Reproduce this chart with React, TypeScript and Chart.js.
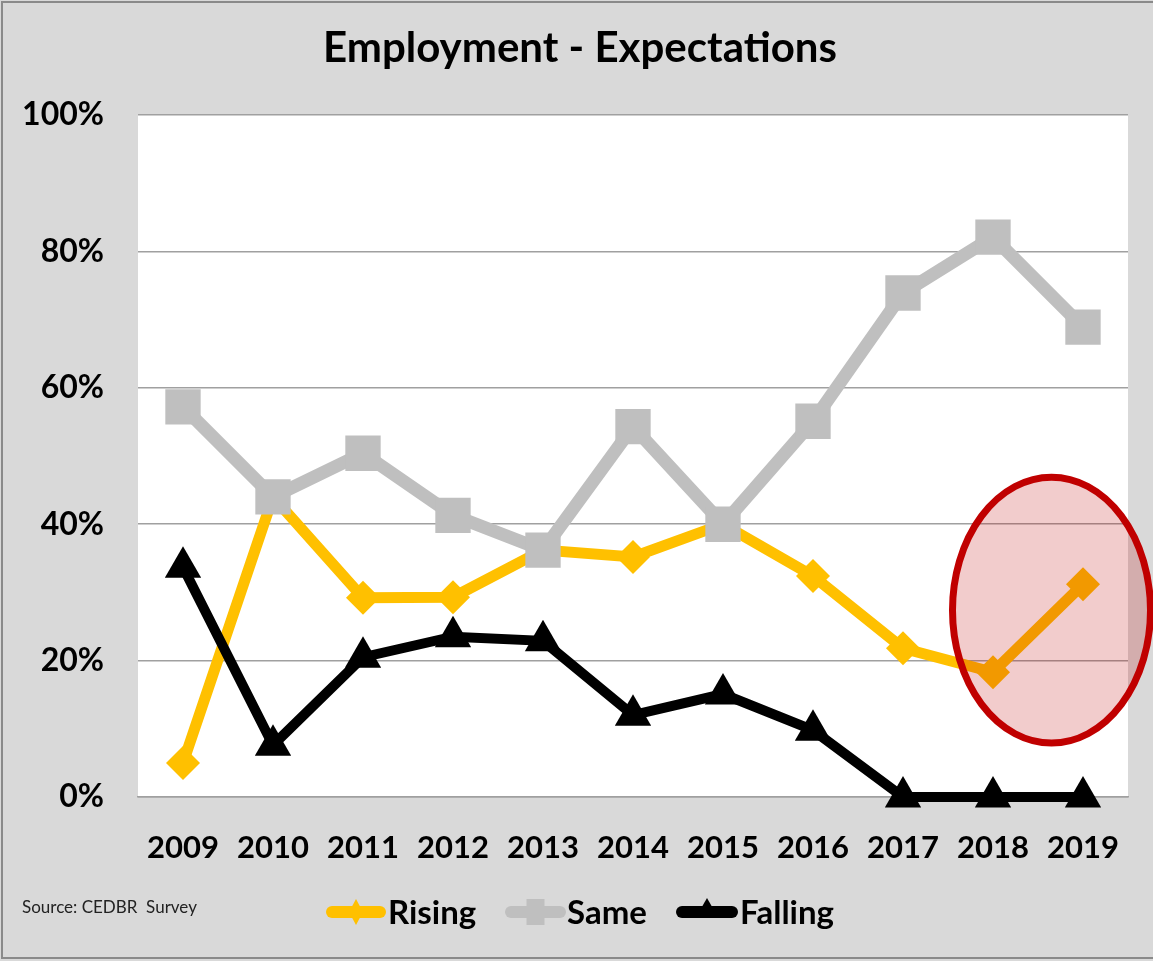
import React, { useEffect, useRef } from "react";
import { Chart, registerables } from "chart.js";

Chart.register(...registerables);

const years = ["2009", "2010", "2011", "2012", "2013", "2014", "2015", "2016", "2017", "2018", "2019"];
const rising = [5, 44, 29.2, 29.3, 36.2, 35.2, 40, 32.4, 21.8, 18.3, 31.2];
const same = [57.2, 44, 50.4, 41.3, 36.2, 54.3, 40, 55.1, 73.9, 82.1, 68.9];
const falling = [33.7, 7.6, 20.5, 23.5, 22.9, 12, 15.1, 9.8, 0, 0, 0];
const yMin = 0;
const yMax = 100;
const yStep = 20;

const titleText = "Employment - Expectations";
const sourceText = "Source: CEDBR  Survey";
const seriesNames = ["Rising", "Same", "Falling"];
const seriesColors = ["#ffc000", "#bfbfbf", "#000000"];

// highlight ellipse annotation in data units (category index, percent)
const highlightCenter = { x: 9.65, y: 27.4 };
const highlightRadius = { x: 1.1, y: 19.5 };

const W = 1153;
const H = 961;
const FONT = "Lato, 'Open Sans', sans-serif";

export default function App() {
  const ref = useRef<HTMLCanvasElement | null>(null);

  useEffect(() => {
    document.body.style.margin = "0";
    const canvas = ref.current!;
    const decor = {
      id: "decor",
      beforeDraw(chart: any) {
        const { ctx, chartArea } = chart;
        ctx.save();
        ctx.fillStyle = "#d9d9d9";
        ctx.fillRect(0, 0, W, H);
        ctx.fillStyle = "#ffffff";
        ctx.fillRect(chartArea.left, chartArea.top, chartArea.right - chartArea.left, chartArea.bottom - chartArea.top);
        ctx.strokeStyle = "#8a8a8a";
        ctx.lineWidth = 2;
        ctx.beginPath();
        ctx.moveTo(W, 2);
        ctx.lineTo(2, 2);
        ctx.lineTo(2, H - 3);
        ctx.lineTo(W, H - 3);
        ctx.stroke();
        ctx.restore();
      },
      afterDatasetsDraw(chart: any) {
        const { ctx, scales } = chart;
        const xs = scales.x;
        const ys = scales.y;
        const cx = xs.getPixelForValue(highlightCenter.x);
        const cy = ys.getPixelForValue(highlightCenter.y);
        const step = xs.getPixelForValue(1) - xs.getPixelForValue(0);
        const rx = highlightRadius.x * step;
        const ry = Math.abs(ys.getPixelForValue(highlightRadius.y) - ys.getPixelForValue(0));
        ctx.save();
        ctx.beginPath();
        ctx.ellipse(cx, cy, rx, ry, 0, 0, Math.PI * 2);
        ctx.fillStyle = "rgba(192,0,0,0.2)";
        ctx.fill();
        ctx.lineWidth = 7;
        ctx.strokeStyle = "#c00000";
        ctx.stroke();
        ctx.restore();
      },
      afterDraw(chart: any) {
        const { ctx } = chart;
        ctx.save();
        ctx.fillStyle = "#000";
        ctx.textBaseline = "middle";
        ctx.textAlign = "center";
        ctx.font = `bold 42px ${FONT}`;
        ctx.fillText(titleText, 580, 48);

        ctx.textAlign = "left";
        ctx.font = `17px ${FONT}`;
        ctx.fillStyle = "#222";
        ctx.fillText(sourceText, 22, 908);

        const ly = 912;
        const items = [
          { x1: 326, x2: 386, tx: 388 },
          { x1: 505, x2: 566, tx: 567 },
          { x1: 676, x2: 738, tx: 740 },
        ];
        items.forEach((it, i) => {
          const c = seriesColors[i];
          ctx.strokeStyle = c;
          ctx.fillStyle = c;
          ctx.lineWidth = 12;
          ctx.lineCap = "round";
          ctx.beginPath();
          ctx.moveTo(it.x1 + 6, ly);
          ctx.lineTo(it.x2 - 6, ly);
          ctx.stroke();
          const mx = (it.x1 + it.x2) / 2;
          ctx.beginPath();
          if (i === 0) {
            ctx.moveTo(mx, ly - 13);
            ctx.lineTo(mx + 7, ly);
            ctx.lineTo(mx, ly + 13);
            ctx.lineTo(mx - 7, ly);
          } else if (i === 1) {
            ctx.rect(mx - 9, ly - 13, 18, 26);
          } else {
            ctx.moveTo(mx, ly - 14);
            ctx.lineTo(mx + 8, ly);
            ctx.lineTo(mx - 8, ly);
          }
          ctx.closePath();
          ctx.fill();
          ctx.fillStyle = "#000";
          ctx.font = `bold 33px ${FONT}`;
          ctx.fillText(seriesNames[i], it.tx, ly + 1);
        });
        ctx.restore();
      },
    };

    const chart = new Chart(canvas, {
      type: "line",
      data: {
        labels: years,
        datasets: [
          {
            label: seriesNames[0],
            data: rising,
            borderColor: seriesColors[0],
            backgroundColor: seriesColors[0],
            borderWidth: 11,
            pointStyle: "rectRot",
            pointRadius: 17,
            pointBorderWidth: 0,
            pointBackgroundColor: seriesColors[0],
            order: 3,
            clip: false as any,
            tension: 0,
          },
          {
            label: seriesNames[1],
            data: same,
            borderColor: seriesColors[1],
            backgroundColor: seriesColors[1],
            borderWidth: 13,
            pointStyle: "rect",
            pointRadius: 25,
            pointBorderWidth: 0,
            pointBackgroundColor: seriesColors[1],
            order: 2,
            clip: false as any,
            tension: 0,
          },
          {
            label: seriesNames[2],
            data: falling,
            borderColor: seriesColors[2],
            backgroundColor: seriesColors[2],
            borderWidth: 10,
            pointStyle: "triangle",
            pointRadius: 21,
            pointBorderWidth: 0,
            pointBackgroundColor: seriesColors[2],
            order: 1,
            clip: false as any,
            tension: 0,
          },
        ],
      },
      options: {
        responsive: false,
        animation: false,
        devicePixelRatio: 1,
        layout: { padding: { left: 0, top: 115, right: 25, bottom: 0 } },
        plugins: {
          legend: { display: false },
          title: { display: false },
          tooltip: { enabled: false },
        },
        scales: {
          x: {
            offset: true,
            grid: { display: false, drawTicks: false },
            border: { display: true, color: "#a0a0a0", width: 1.5 },
            ticks: {
              color: "#000",
              font: { family: FONT, size: 31, weight: "bold" },
              padding: 32,
              maxRotation: 0,
              autoSkip: false,
            },
            afterFit(scale: any) {
              scale.height = H - 797;
            },
          },
          y: {
            min: yMin,
            max: yMax,
            grid: { color: "#a0a0a0", lineWidth: 1.5, drawTicks: false },
            border: { display: false },
            ticks: {
              stepSize: yStep,
              color: "#000",
              font: { family: FONT, size: 32, weight: "bold" },
              padding: 34,
              callback: (v: any) => `${v}%`,
            },
            afterFit(scale: any) {
              scale.width = 138;
            },
          },
        },
      },
      plugins: [decor],
    });
    return () => chart.destroy();
  }, []);

  return (
    <canvas
      ref={ref}
      width={W}
      height={H}
      style={{ position: "fixed", left: 0, top: 0, width: W, height: H, display: "block" }}
    />
  );
}
